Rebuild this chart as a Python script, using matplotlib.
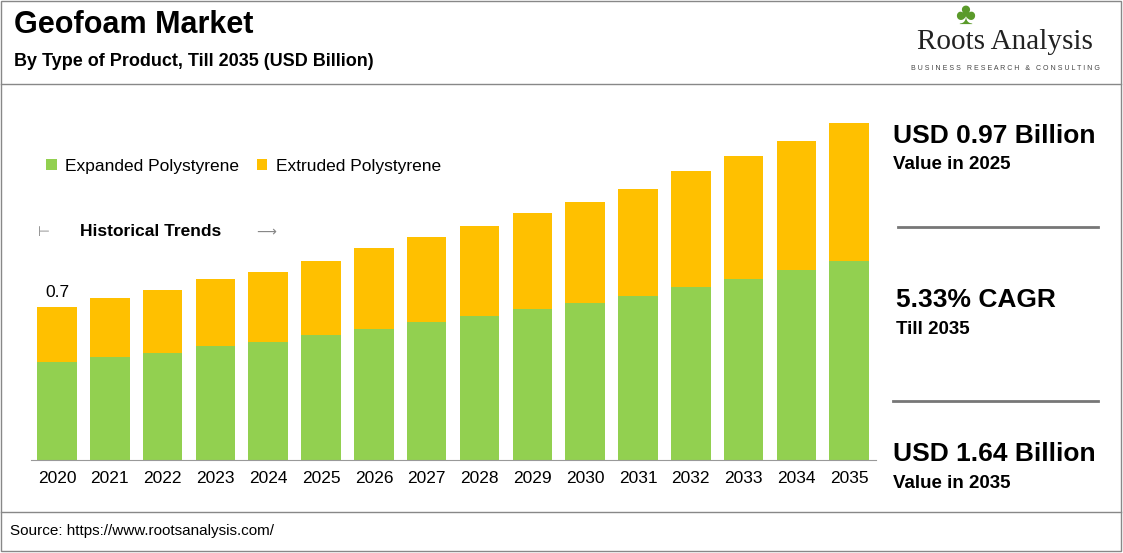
import matplotlib.pyplot as plt
from matplotlib.patches import Rectangle
from matplotlib.lines import Line2D

years = [str(y) for y in range(2020, 2036)]
expanded = [0.45, 0.47, 0.49, 0.52, 0.54, 0.57, 0.60, 0.63, 0.66, 0.69, 0.72, 0.75, 0.79, 0.83, 0.87, 0.91]
extruded = [0.25, 0.27, 0.29, 0.31, 0.32, 0.34, 0.37, 0.39, 0.41, 0.44, 0.46, 0.49, 0.53, 0.56, 0.59, 0.63]

GREEN = "#92d050"
YELLOW = "#ffc000"
W, H = 1123, 553

plt.rcParams["font.family"] = ["Liberation Sans", "DejaVu Sans"]
fig = plt.figure(figsize=(W / 100, H / 100), dpi=100)


def fx(px):
    return px / W


def fy(py):
    return 1 - py / H


# frames
fig.add_artist(Rectangle((fx(1), fy(551)), fx(1120), 550 / H, transform=fig.transFigure,
                         fill=False, ec="#888888", lw=1))
fig.add_artist(Line2D([fx(1), fx(1121)], [fy(84), fy(84)], transform=fig.transFigure, color="#888888", lw=1))
fig.add_artist(Line2D([fx(1), fx(1121)], [fy(512), fy(512)], transform=fig.transFigure, color="#888888", lw=1))

fig.text(fx(14), fy(25), "Geofoam Market", fontsize=22, fontweight="bold", va="center")
fig.text(fx(14), fy(61), "By Type of Product, Till 2035 (USD Billion)", fontsize=13, fontweight="bold", va="center")
fig.text(fx(10), fy(531), "Source: https://www.rootsanalysis.com/", fontsize=11, va="center")

# logo
fig.text(fx(1005), fy(42), "Roots Analysis", fontsize=21, family="Liberation Serif", ha="center", va="center", color="#222222")
fig.text(fx(1005), fy(68), "B U S I N E S S   R E S E A R C H   &   C O N S U L T I N G", fontsize=5,
         ha="center", va="center", color="#444444")
fig.text(fx(965), fy(16), "\u2663", fontsize=22, ha="center", va="center", color="#5a9a2a")

ax = fig.add_axes([fx(30.6), fy(460), fx(845), (460 - 100) / H])
x = range(len(years))
ax.bar(x, expanded, width=0.75, color=GREEN, label="Expanded Polystyrene")
ax.bar(x, extruded, width=0.75, bottom=expanded, color=YELLOW, label="Extruded Polystyrene")
ax.set_xlim(-0.5, len(years) - 0.5)
ax.set_ylim(0, 1.647)
ax.set_xticks(list(x))
ax.set_xticklabels(years, fontsize=12.5)
ax.tick_params(axis="x", length=0, pad=8)
ax.set_yticks([])
for s in ["top", "right", "left"]:
    ax.spines[s].set_visible(False)
ax.spines["bottom"].set_color("#999999")
ax.text(0, expanded[0] + extruded[0] + 0.03, "0.7", ha="center", va="bottom", fontsize=12.5)
ax.legend(loc="upper left", bbox_to_anchor=(0.0, 0.88), ncol=2, frameon=False, fontsize=12.5,
          handlelength=0.6, handleheight=0.6, columnspacing=1.0, handletextpad=0.5)

fig.text(fx(80), fy(231), "Historical Trends", fontsize=12.5, fontweight="bold", va="center")
fig.text(fx(38), fy(232), "\u22a2", fontsize=10, va="center", color="#888888")
fig.text(fx(256), fy(232), "\u27f6", fontsize=10, va="center", color="#888888")

# right panel
fig.text(fx(893), fy(136), "USD 0.97 Billion", fontsize=19, fontweight="bold", va="center")
fig.text(fx(893), fy(165), "Value in 2025", fontsize=13.5, fontweight="bold", va="center")
fig.add_artist(Line2D([fx(898), fx(1098)], [fy(227), fy(227)], transform=fig.transFigure, color="#777777", lw=2))
fig.text(fx(896), fy(300), "5.33% CAGR", fontsize=19, fontweight="bold", va="center")
fig.text(fx(896), fy(329), "Till 2035", fontsize=13.5, fontweight="bold", va="center")
fig.add_artist(Line2D([fx(893), fx(1098)], [fy(401), fy(401)], transform=fig.transFigure, color="#777777", lw=2))
fig.text(fx(893), fy(454), "USD 1.64 Billion", fontsize=19, fontweight="bold", va="center")
fig.text(fx(893), fy(483), "Value in 2035", fontsize=13.5, fontweight="bold", va="center")

fig.savefig("out.png", dpi=100)
